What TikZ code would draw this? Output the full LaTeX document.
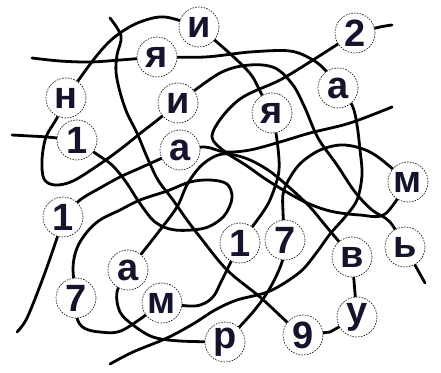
\documentclass[tikz,border=0pt]{standalone}
\usepackage{fontspec}
\setmainfont{Liberation Sans}
\definecolor{txt}{RGB}{20,20,45}
\pgfdeclarelayer{bg}
\pgfsetlayers{bg,main}
\begin{document}
\begin{tikzpicture}[x=1pt,y=-1pt,
  lt/.style={circle,draw=black!85,dash pattern=on 1.6pt off 1.2pt,line width=0.7pt,fill=white,
    minimum size=40pt,inner sep=0pt,font=\fontsize{38}{44}\selectfont\bfseries,text=txt},
  rope/.style={line width=2.8pt,line cap=round,line join=round,black}]
\useasboundingbox (0,0) rectangle (441,372);
% letter circles
\node[lt] (it) at (199,27) {и};
\node[lt] (yt) at (157,57) {я};
\node[lt] (n) at (66,98) {н};
\node[lt] (im) at (178,103) {и};
\node[lt] (o1) at (77,140) {1};
\node[lt] (am) at (180,150) {а};
\node[lt] (two) at (355,33) {2};
\node[lt] (ar) at (338,88) {а};
\node[lt] (yr) at (272,113) {я};
\node[lt] (mr) at (408,182) {м};
\node[lt] (o2) at (63,217) {1};
\node[lt] (al) at (128,270) {а};
\node[lt] (s1) at (76,298) {7};
\node[lt] (ml) at (162,303) {м};
\node[lt] (r) at (225,342) {р};
\node[lt] (o3) at (240,243) {1};
\node[lt] (s2) at (285,240) {7};
\node[lt] (v) at (352,257) {в};
\node[lt] (sg) at (405,247) {ь};
\node[lt] (u) at (357,317) {у};
\node[lt] (nine) at (303,335) {9};
% free ends
\coordinate (f1) at (32,58);
\coordinate (f2) at (110,18);
\coordinate (f3) at (12,135);
\coordinate (f4) at (392,107);
\coordinate (f5) at (392,25);
\coordinate (f6) at (425,283);
\coordinate (f7) at (17,332);
\coordinate (f8) at (110,364);
\begin{pgfonlayer}{bg}
\draw[rope] plot[smooth,tension=0.55] coordinates {(f1) (60,61) (90,62) (120,60) (yt)};
\draw[rope] plot[smooth,tension=0.55] coordinates {(yt) (205,57) (250,52) (290,51) (313,60) (327,72) (ar)};
\draw[rope] plot[smooth,tension=0.55] coordinates {(it) (165,17) (140,22) (120,33) (105,46) (88,67) (n)};
\draw[rope] plot[smooth,tension=0.55] coordinates {(it) (218,43) (238,61) (252,76) (262,95) (yr)};
\draw[rope] plot[smooth,tension=0.55] coordinates {(two) (313,60) (280,80) (243,97) (222,117) (212,137) (224,151) (247,166) (270,182) (303,201) (330,211) (360,215) (385,214) (mr)};
\draw[rope] plot[smooth,tension=0.55] coordinates {(two) (380,27) (f5)};
\draw[rope] plot[smooth,tension=0.55] coordinates {(im) (220,73) (250,65) (275,68) (293,85) (305,108) (318,138) (337,165) (355,192) (372,210) (390,222) (sg)};
\draw[rope] plot[smooth,tension=0.55] coordinates {(ar) (352,105) (357,125) (360,150) (362,175) (357,200) (345,217) (330,234) (317,252) (300,272) (270,291) (237,300) (215,310) (193,324) (167,338) (133,352) (f8)};
\draw[rope] plot[smooth,tension=0.55] coordinates {(f2) (121,36) (117,55) (116,72) (120,92) (127,113) (137,133) (147,157) (158,180) (173,200) (187,220) (200,237) (227,270) (260,297) (287,322) (nine)};
\draw[rope] plot[smooth,tension=0.55] coordinates {(n) (57,118) (46,137) (42,160) (44,179) (55,185) (73,181) (100,164) (122,148) (142,132) (160,118) (im)};
\draw[rope] plot[smooth,tension=0.55] coordinates {(f3) (30,136) (47,137) (o1)};
\draw[rope] plot[smooth,tension=0.55] coordinates {(o1) (95,153) (112,165) (126,182) (139,202) (155,222) (175,230) (205,228) (224,216) (232,198) (227,184) (210,180) (190,182) (167,191) (140,200) (120,210) (100,220) (87,232) (77,248) (73,268) (s1)};
\draw[rope] plot[smooth,tension=0.55] coordinates {(o2) (80,200) (100,188) (120,177) (140,168) (am)};
\draw[rope] plot[smooth,tension=0.55] coordinates {(o2) (57,238) (43,278) (27,318) (f7)};
\draw[rope] plot[smooth,tension=0.55] coordinates {(al) (142,253) (160,230) (177,207) (188,183) (203,164) (222,154) (245,158) (268,170) (290,188) (310,207) (325,225) (v)};
\draw[rope] plot[smooth,tension=0.55] coordinates {(am) (205,147) (225,152) (250,150) (280,142) (310,133) (350,123) (f4)};
\draw[rope] plot[smooth,tension=0.55] coordinates {(yr) (277,140) (279,170) (272,195) (263,212) (o3)};
\draw[rope] plot[smooth,tension=0.55] coordinates {(s2) (283,212) (284,190) (298,166) (318,151) (340,145) (360,148) (378,157) (mr)};
\draw[rope] plot[smooth,tension=0.55] coordinates {(s2) (282,262) (270,288) (253,312) (r)};
\draw[rope] plot[smooth,tension=0.55] coordinates {(al) (117,292) (120,312) (133,325) (153,337) (180,341) (r)};
\draw[rope] plot[smooth,tension=0.55] coordinates {(s1) (77,318) (84,328) (100,332) (123,330) (ml)};
\draw[rope] plot[smooth,tension=0.55] coordinates {(ml) (195,306) (212,298) (222,280) (o3)};
\draw[rope] (nine) -- (330,332) -- (u);
\draw[rope] (u) -- (v);
\draw[rope] (sg) -- (f6);
\end{pgfonlayer}
\end{tikzpicture}
\end{document}
